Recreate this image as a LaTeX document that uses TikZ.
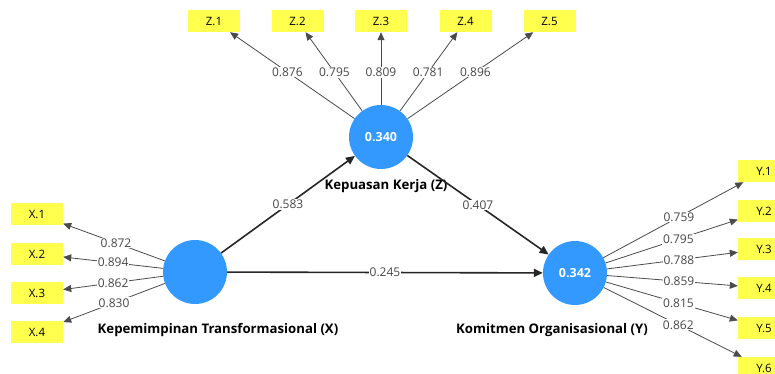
\documentclass[tikz,border=0pt]{standalone}
\usepackage{fontspec}
\setmainfont{Open Sans}
\usetikzlibrary{arrows.meta}
\definecolor{lvblue}{RGB}{51,153,255}
\definecolor{mvyellow}{RGB}{255,255,77}
\definecolor{loadgray}{RGB}{75,75,75}
\begin{document}
\begin{tikzpicture}[x=1pt,y=-1pt,
 lv/.style={circle,fill=lvblue,minimum size=64pt,inner sep=0pt,text=white,font=\bfseries\fontsize{12.5}{14}\selectfont},
 mv/.style={rectangle,fill=mvyellow,minimum width=52pt,minimum height=22pt,inner sep=0pt,font=\fontsize{11.5}{13}\selectfont},
 loadarrow/.style={draw=loadgray,line width=0.8pt,-{Triangle[length=8pt,width=7pt]}},
 structarrow/.style={draw=black!85,line width=1.6pt,-{Triangle[length=9pt,width=8pt]}},
 lbl/.style={fill=white,inner sep=1pt,text=black!72,font=\fontsize{12}{14}\selectfont},
 lvname/.style={font=\bfseries\fontsize{13.2}{15}\selectfont}
]
\clip (0,0) rectangle (775,374);
\fill[white] (0,0) rectangle (775,374);

% latent variables
\node[lv] (X) at (195,272) {};
\node[lv] (Z) at (381,137) {0.340};
\node[lv] (Y) at (575,273) {0.342};

% names
\node[lvname] (Xn) at (218,330) {Kepemimpinan Transformasional (X)};
\node[lvname] (Zn) at (386,186) {Kepuasan Kerja (Z)};
\node[lvname] (Yn) at (552,330) {Komitmen Organisasional (Y)};

% indicators
\node[mv] (x1) at (37,214) {X.1};
\node[mv] (x2) at (37,254) {X.2};
\node[mv] (x3) at (37,293) {X.3};
\node[mv] (x4) at (37,332) {X.4};

\node[mv] (z1) at (214,21) {Z.1};
\node[mv] (z2) at (297.5,21) {Z.2};
\node[mv] (z3) at (381,21) {Z.3};
\node[mv] (z4) at (465.5,21) {Z.4};
\node[mv] (z5) at (549.5,21) {Z.5};

\node[mv] (y1) at (764,171) {Y.1};
\node[mv] (y2) at (764,211) {Y.2};
\node[mv] (y3) at (764,249) {Y.3};
\node[mv] (y4) at (764,288) {Y.4};
\node[mv] (y5) at (764,328) {Y.5};
\node[mv] (y6) at (764,368) {Y.6};

% loadings X
\draw[loadarrow] (X) -- node[lbl,pos=0.48] {0.872} (x1);
\draw[loadarrow] (X) -- node[lbl,pos=0.5] {0.894} (x2);
\draw[loadarrow] (X) -- node[lbl,pos=0.5] {0.862} (x3);
\draw[loadarrow] (X) -- node[lbl,pos=0.5] {0.830} (x4);

% loadings Z
\draw[loadarrow] (Z) -- node[lbl,pos=0.54] {0.876} (z1);
\draw[loadarrow] (Z) -- node[lbl,pos=0.49] {0.795} (z2);
\draw[loadarrow] (Z) -- node[lbl,pos=0.45] {0.809} (z3);
\draw[loadarrow] (Z) -- node[lbl,pos=0.49] {0.781} (z4);
\draw[loadarrow] (Z) -- node[lbl,pos=0.54] {0.896} (z5);

% loadings Y
\draw[loadarrow] (Y) -- node[lbl,pos=0.54] {0.759} (y1);
\draw[loadarrow] (Y) -- node[lbl,pos=0.55] {0.795} (y2);
\draw[loadarrow] (Y) -- node[lbl,pos=0.55] {0.788} (y3);
\draw[loadarrow] (Y) -- node[lbl,pos=0.55] {0.859} (y4);
\draw[loadarrow] (Y) -- node[lbl,pos=0.55] {0.815} (y5);
\draw[loadarrow] (Y) -- node[lbl,pos=0.54] {0.862} (y6);

% structural paths
\draw[structarrow] (X) -- node[lbl] {0.583} (Z);
\draw[structarrow] (Z) -- node[lbl] {0.407} (Y);
\draw[structarrow] (X) -- node[lbl] {0.245} (Y);
\end{tikzpicture}
\end{document}
